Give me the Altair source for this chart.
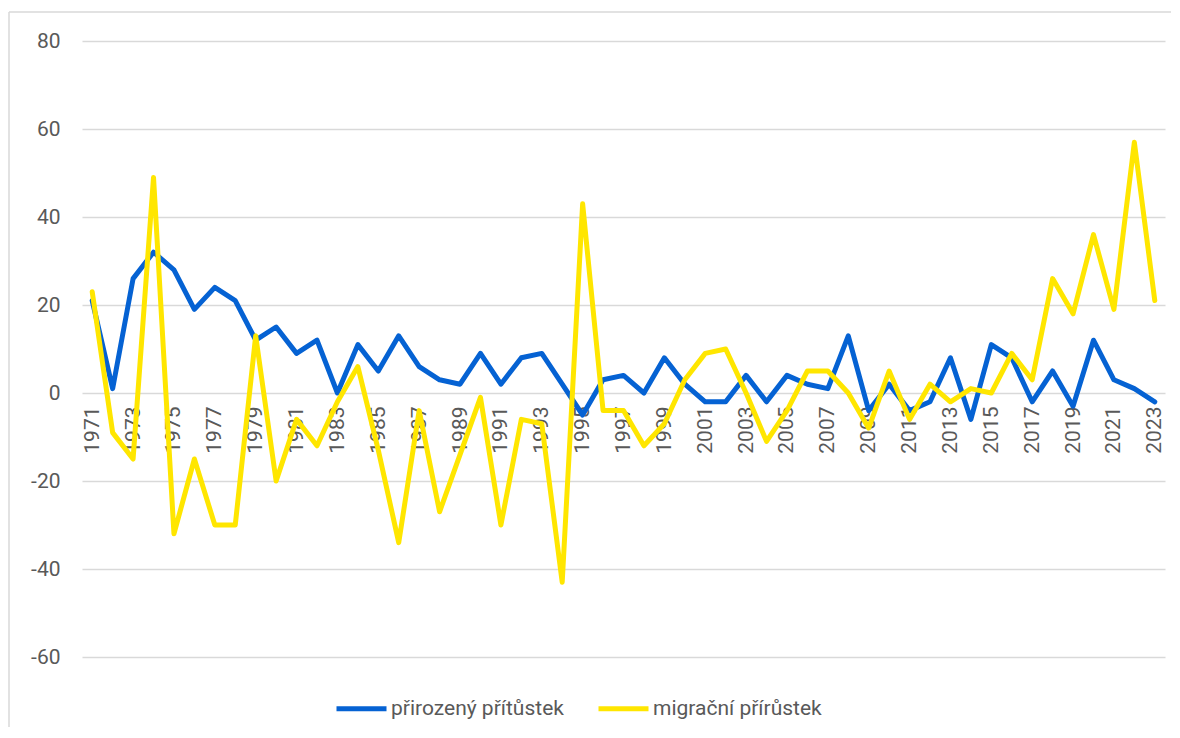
import altair as alt
import pandas as pd

years = list(range(1971, 2024))
natural = [21, 1, 26, 32, 28, 19, 24, 21, 12, 15, 9, 12, 0, 11, 5, 13, 6, 3, 2, 9,
           2, 8, 9, 2, -5, 3, 4, 0, 8, 2, -2, -2, 4, -2, 4, 2, 1, 13, -4, 2,
           -4, -2, 8, -6, 11, 8, -2, 5, -3, 12, 3, 1, -2]
migration = [23, -9, -15, 49, -32, -15, -30, -30, 13, -20, -6, -12, -2, 6, -13, -34, -4, -27, -14, -1,
             -30, -6, -7, -43, 43, -4, -4, -12, -7, 3, 9, 10, 0, -11, -4, 5, 5, 0, -8, 5,
             -6, 2, -2, 1, 0, 9, 3, 26, 18, 36, 19, 57, 21]
series_names = ["přirozený přítůstek", "migrační přírůstek"]
series_colors = ["#0562D3", "#FFE600"]
y_ticks = [-60, -40, -20, 0, 20, 40, 60, 80]
x_labels = years[::2]

df_nat = pd.DataFrame({"year": years, "value": natural, "series": series_names[0]})
df_mig = pd.DataFrame({"year": years, "value": migration, "series": series_names[1]})

W, H = 1083, 616
FONT = "Roboto"
GREY = "#595959"
FS = 21

color = alt.Color(
    "series:N",
    scale=alt.Scale(domain=series_names, range=series_colors),
    legend=alt.Legend(
        title=None,
        orient="none",
        direction="horizontal",
        legendX=252,
        legendY=640,
        symbolType="stroke",
        symbolSize=2500,
        symbolStrokeWidth=5,
        labelFontSize=FS,
        labelFont=FONT,
        labelColor=GREY,
        labelOffset=2,
        labelLimit=0,
        columnPadding=24,
    ),
)

x = alt.X(
    "year:O",
    scale=alt.Scale(type="point", padding=0.5),
    axis=alt.Axis(
        title=None,
        values=x_labels,
        labelAngle=270,
        labelFontSize=FS,
        labelFont=FONT,
        labelColor=GREY,
        labelPadding=13,
        ticks=False,
        domain=False,
        grid=False,
        offset=-264,
        labelOverlap=False,
    ),
)
y = alt.Y(
    "value:Q",
    scale=alt.Scale(domain=[-60, 80], nice=False, zero=False),
    axis=alt.Axis(
        title=None,
        values=y_ticks,
        labelExpr="'' + datum.value",
        labelFontSize=FS,
        labelFont=FONT,
        labelColor=GREY,
        labelPadding=22,
        ticks=False,
        domain=False,
        grid=True,
        gridColor="#D9D9D9",
        gridWidth=1.5,
    ),
)

line_nat = alt.Chart(df_nat).mark_line(strokeWidth=5, strokeJoin="round", strokeCap="round").encode(
    x=x, y=y, color=color
)
line_mig = alt.Chart(df_mig).mark_line(strokeWidth=5, strokeJoin="round", strokeCap="round").encode(
    x=x, y=y, color=color
)

frame_df = pd.DataFrame({"k": [0]})
frame_left = alt.Chart(frame_df).mark_rule(color="#D9D9D9", strokeWidth=1.5).encode(
    x=alt.value(-73), y=alt.value(-29), y2=alt.value(H + 80)
)
frame_top = alt.Chart(frame_df).mark_rule(color="#D9D9D9", strokeWidth=1.5).encode(
    x=alt.value(-73), x2=alt.value(W + 20), y=alt.value(-29)
)

chart = (
    alt.layer(frame_left, frame_top, line_nat, line_mig)
    .properties(
        width=W,
        height=H,
        padding={"left": 74, "top": 33, "right": 6, "bottom": 70},
        autosize=alt.AutoSizeParams(type="none"),
        background="white",
    )
    .configure_view(stroke=None)
)

chart.save("out.html", embed_options={"renderer": "svg", "actions": False})
